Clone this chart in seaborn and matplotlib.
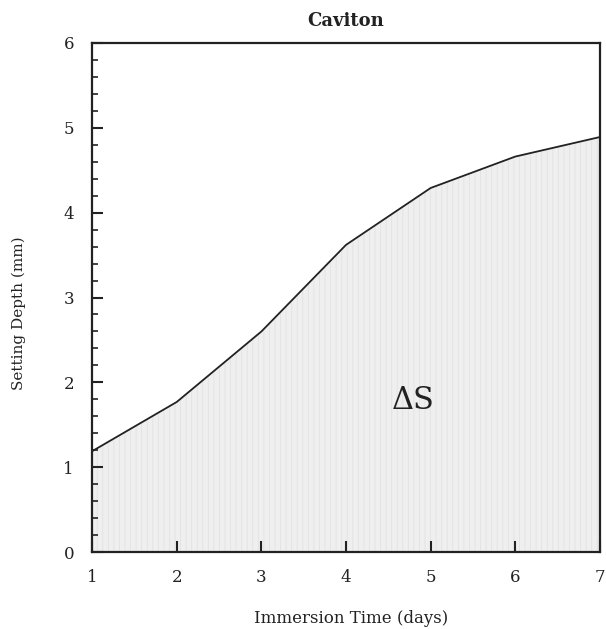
import matplotlib
matplotlib.use("Agg")
import matplotlib.pyplot as plt
import seaborn as sns
import pandas as pd
from matplotlib.ticker import MultipleLocator

days = [1, 2, 3, 4, 5, 6, 7]
depth = [1.19, 1.77, 2.60, 3.62, 4.29, 4.66, 4.89]
title = "Caviton"
xlabel = "Immersion Time (days)"
ylabel = "Setting Depth (mm)"
annot = "ΔS"

sns.set_theme(style="white")
plt.rcParams['font.family'] = ['DejaVu Serif']
plt.rcParams['xtick.bottom'] = True
plt.rcParams['ytick.left'] = True
plt.rcParams['axes.axisbelow'] = False
plt.rcParams['hatch.linewidth'] = 0.6

df = pd.DataFrame({"days": days, "depth": depth})

fig = plt.figure(figsize=(6.06, 6.29), dpi=100)
ax = fig.add_axes([0.152, 0.122, 0.838, 0.810])
ax.set_axisbelow(False)

ax.fill_between(df["days"], 0, df["depth"], facecolor="#efefef",
                edgecolor="#e2e2e2", hatch="|||", linewidth=0, zorder=1)
sns.lineplot(data=df, x="days", y="depth", ax=ax, color="#222222", linewidth=1.3, zorder=3)

ax.set_xlim(1, 7)
ax.set_ylim(0, 6)
ax.xaxis.set_major_locator(MultipleLocator(1))
ax.yaxis.set_major_locator(MultipleLocator(1))
ax.yaxis.set_minor_locator(MultipleLocator(0.2))
ax.tick_params(axis="both", which="major", direction="in", length=8, width=1.5,
               labelsize=12, colors="#222222", left=True, bottom=True)
ax.tick_params(axis="y", which="major", pad=13)
ax.tick_params(axis="x", which="major", pad=12)
ax.tick_params(axis="y", which="minor", direction="in", length=4.5, width=1.2,
               left=True, color="#222222")
for s in ax.spines.values():
    s.set_linewidth(1.6)
    s.set_color("#222222")
    s.set_zorder(5)

ax.set_title(title, fontsize=13, fontweight="bold", pad=12, color="#222222")
ax.set_xlabel(xlabel, fontsize=12, color="#222222", va="center")
ax.xaxis.set_label_coords(0.51, -0.13)
ax.set_ylabel(ylabel, fontsize=11, color="#222222")
ax.yaxis.set_label_coords(-0.13, 0.47)
ax.text(4.79, 1.79, annot, fontsize=22, ha="center", va="center", color="#222222")

fig.savefig("out.png", dpi=100)
